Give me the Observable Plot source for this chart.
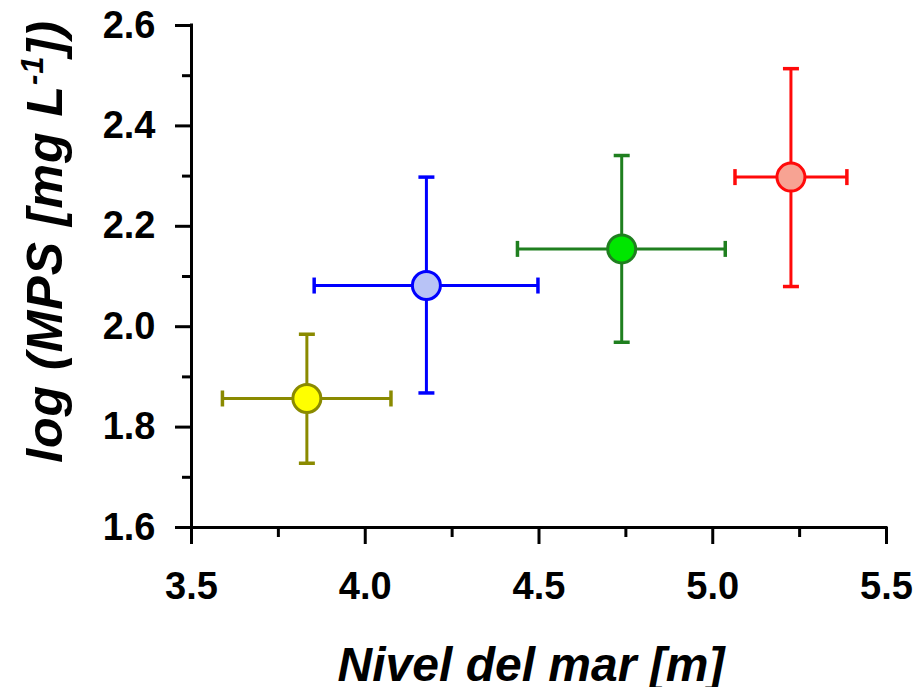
<!DOCTYPE html>
<html>
<head>
<meta charset="utf-8">
<script src="https://cdn.jsdelivr.net/npm/d3@7"></script>
<script src="https://cdn.jsdelivr.net/npm/@observablehq/plot@0.6"></script>
<style>
  html, body { margin: 0; padding: 0; background: #ffffff; }
  #chart svg { display: block; }
</style>
</head>
<body>
<div id="chart"></div>
<script>
// Sea level (x) vs log MPS (y): mean with min/max ranges for four groups
const grupos = ["amarillo", "azul", "verde", "rojo"];
const nivelMedio = [3.832, 4.176, 4.738, 5.225];
const nivelMin   = [3.589, 3.853, 4.438, 5.064];
const nivelMax   = [4.074, 4.497, 5.036, 5.386];
const mpsMedio   = [1.857, 2.082, 2.155, 2.298];
const mpsMin     = [1.728, 1.868, 1.969, 2.080];
const mpsMax     = [1.985, 2.298, 2.341, 2.514];

const xTicks = [3.5, 4.0, 4.5, 5.0, 5.5];
const xMinor = [3.75, 4.25, 4.75, 5.25];
const yTicks = [1.6, 1.8, 2.0, 2.2, 2.4, 2.6];
const yMinor = [1.7, 1.9, 2.1, 2.3, 2.5];

const tituloX = "Nivel del mar [m]";
const tituloY = "log (MPS [mg L-1])";

// colour per group
const trazo   = ["#8a8a00", "#0000ff", "#1f7f1f", "#ff0a0a"];
const relleno = ["#ffff00", "#b8c3f6", "#00e600", "#f7a393"];

const datos = grupos.map((g, i) => ({
  grupo: g,
  x: nivelMedio[i], xlo: nivelMin[i], xhi: nivelMax[i],
  y: mpsMedio[i], ylo: mpsMin[i], yhi: mpsMax[i]
}));

// line-shaped symbols used for the error-bar caps
const capH = { draw(ctx, size) { const r = Math.sqrt(size / Math.PI); ctx.moveTo(-r, 0); ctx.lineTo(r, 0); } };
const capV = { draw(ctx, size) { const r = Math.sqrt(size / Math.PI); ctx.moveTo(0, -r); ctx.lineTo(0, r); } };

const stroke = d => d.grupo;
const fmt = d => d.toFixed(1);
const tickFont = 38;
const titleFont = 48;
const titleFontY = 50;

const chart = Plot.plot({
  width: 917,
  height: 687,
  marginLeft: 191,
  marginRight: 31,
  marginTop: 25,
  marginBottom: 160,
  style: {
    fontFamily: "'Liberation Sans', Arial, sans-serif",
    fontWeight: "bold",
    fontSize: tickFont + "px",
    color: "#000",
    background: "#fff"
  },
  x: { domain: [3.5, 5.5], axis: null },
  y: { domain: [1.6, 2.6], axis: null },
  color: { domain: grupos, range: trazo },
  marks: [
    // axes
    Plot.axisX({ ticks: xTicks, tickSize: 17, tickPadding: 28, tickFormat: fmt, label: null, strokeWidth: 3, fontSize: tickFont }),
    Plot.axisX({ ticks: xMinor, tickSize: 10, tickFormat: () => "", label: null, strokeWidth: 3 }),
    Plot.axisY({ ticks: yTicks, tickSize: 16, tickPadding: 20, tickFormat: fmt, label: null, strokeWidth: 3, fontSize: tickFont }),
    Plot.axisY({ ticks: yMinor, tickSize: 9, tickFormat: () => "", label: null, strokeWidth: 3 }),
    Plot.ruleX([3.5], { strokeWidth: 3, strokeLinecap: "square" }),
    Plot.ruleY([1.6], { strokeWidth: 3, strokeLinecap: "square" }),

    // error bars
    Plot.ruleY(datos, { y: "y", x1: "xlo", x2: "xhi", stroke, strokeWidth: 3 }),
    Plot.ruleX(datos, { x: "x", y1: "ylo", y2: "yhi", stroke, strokeWidth: 3 }),
    Plot.dot(datos, { x: "xlo", y: "y", symbol: capV, r: 8, fill: "none", stroke, strokeWidth: 3.5 }),
    Plot.dot(datos, { x: "xhi", y: "y", symbol: capV, r: 8, fill: "none", stroke, strokeWidth: 3.5 }),
    Plot.dot(datos, { x: "x", y: "ylo", symbol: capH, r: 8, fill: "none", stroke, strokeWidth: 3.5 }),
    Plot.dot(datos, { x: "x", y: "yhi", symbol: capH, r: 8, fill: "none", stroke, strokeWidth: 3.5 }),

    // means
    Plot.dot(datos, { x: "x", y: "y", r: 14, stroke, strokeWidth: 3, fill: d => relleno[grupos.indexOf(d.grupo)] }),

    // axis titles
    Plot.text([tituloX], { frameAnchor: "bottom", textAnchor: "middle", lineAnchor: "bottom", dx: -8, dy: 153, fontSize: titleFont, fontWeight: "bold", fontStyle: "italic" }),
    Plot.text([tituloY], { frameAnchor: "left", textAnchor: "middle", lineAnchor: "bottom", rotate: -90, dx: -130, dy: -35, fontSize: titleFontY, fontWeight: "bold", fontStyle: "italic" })
  ]
});

// tick labels at full size
d3.select(chart).selectAll("g[aria-label$='tick label'] text").style("font-size", tickFont + "px");

// superscript "-1" in the y title
d3.select(chart).selectAll("text").each(function () {
  if (this.textContent === tituloY) {
    const t = d3.select(this).style("letter-spacing", "1px");
    t.text(null);
    t.append("tspan").text("log (MPS [mg L");
    t.append("tspan").attr("font-size", 31).attr("dy", -19).text("-1");
    t.append("tspan").attr("dy", 19).text("])");
  }
});

document.getElementById("chart").appendChild(chart);
</script>
</body>
</html>
